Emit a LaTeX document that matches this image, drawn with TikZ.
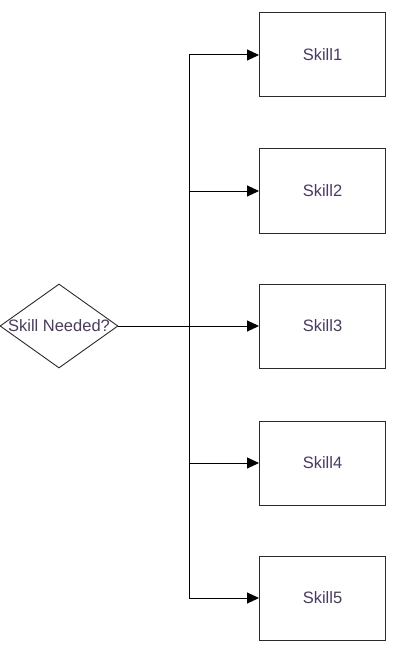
\documentclass[tikz,border=0pt]{standalone}
\usepackage{fontspec}
\setmainfont{Liberation Sans}
\usetikzlibrary{shapes.geometric,arrows.meta}
\definecolor{txt}{HTML}{4B3B5F}
\definecolor{ln}{HTML}{2A2A2A}
\tikzset{
  skillbox/.style={draw=ln, line width=1pt, minimum width=126pt, minimum height=84pt, inner sep=0pt, text=txt, font=\fontsize{16.5}{18}\selectfont},
  decision/.style={draw=ln, line width=0.9pt, diamond, minimum width=118pt, minimum height=84pt, inner sep=0pt, text=txt, font=\fontsize{16.5}{18}\selectfont},
  conn/.style={draw=black, line width=1pt},
  arr/.style={conn, -{Triangle[length=12pt,width=11pt]}}
}
\begin{document}
\begin{tikzpicture}[x=1pt,y=-1pt]
\useasboundingbox (0,0) rectangle (400,655);
\node[decision] (d) at (59,326) {\makebox[0pt]{Skill Needed?}};
\node[skillbox] (s1) at (322.5,55) {Skill1};
\node[skillbox] (s2) at (322.5,191) {Skill2};
\node[skillbox] (s3) at (322.5,326) {Skill3};
\node[skillbox] (s4) at (322.5,463) {Skill4};
\node[skillbox] (s5) at (322.5,598) {Skill5};
\coordinate (t) at (189,326);
\draw[arr] (d.east) -- (s3.west);
\draw[arr] (t) |- (s1.west);
\draw[arr] (t) |- (s2.west);
\draw[arr] (t) |- (s4.west);
\draw[arr] (t) |- (s5.west);
\end{tikzpicture}
\end{document}
